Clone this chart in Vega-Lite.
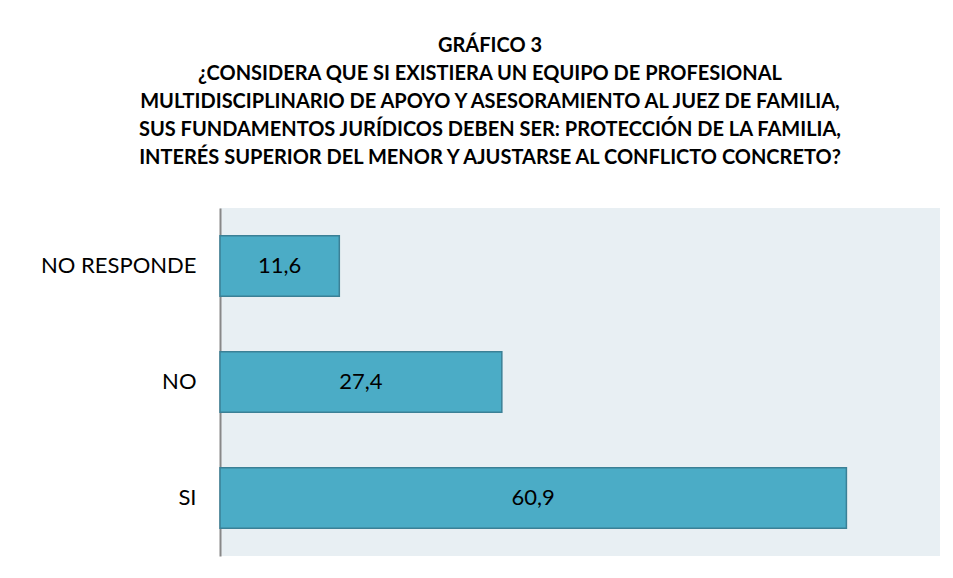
{
  "$schema": "https://vega.github.io/schema/vega-lite/v6.json",
  "width": 720,
  "height": 348,
  "autosize": {"type": "none"},
  "padding": {"left": 220, "top": 208, "right": 13, "bottom": 22},
  "background": "white",
  "title": {
    "text": ["GRÁFICO 3", "¿CONSIDERA QUE SI EXISTIERA UN EQUIPO DE PROFESIONAL", "MULTIDISCIPLINARIO DE APOYO Y ASESORAMIENTO AL JUEZ DE FAMILIA,", "SUS FUNDAMENTOS JURÍDICOS DEBEN SER: PROTECCIÓN DE LA FAMILIA,", "INTERÉS SUPERIOR DEL MENOR Y AJUSTARSE AL  CONFLICTO CONCRETO?"],
    "font": "Lato",
    "fontSize": 20,
    "fontWeight": "bold",
    "color": "black",
    "lineHeight": 28,
    "anchor": "middle",
    "frame": "group",
    "dx": -90,
    "offset": 40
  },
  "data": {
    "values": [
      {"respuesta": "NO RESPONDE", "porcentaje": 11.6, "etiqueta": "11,6"},
      {"respuesta": "NO", "porcentaje": 27.4, "etiqueta": "27,4"},
      {"respuesta": "SI", "porcentaje": 60.9, "etiqueta": "60,9"}
    ]
  },
  "encoding": {
    "y": {
      "field": "respuesta",
      "type": "nominal",
      "sort": ["NO RESPONDE", "NO", "SI"],
      "scale": {"paddingInner": 0.48, "paddingOuter": 0.24},
      "axis": {
        "title": null,
        "ticks": false,
        "domainColor": "#888888",
        "domainWidth": 2,
        "labelFont": "Lato",
        "labelFontSize": 22,
        "labelColor": "black",
        "labelPadding": 24,
        "grid": false
      }
    }
  },
  "layer": [
    {
      "mark": {"type": "bar", "color": "#4bacc6", "stroke": "#3b8096", "strokeWidth": 1.5},
      "encoding": {
        "x": {"field": "porcentaje", "type": "quantitative", "scale": {"domain": [0, 70]}, "axis": null}
      }
    },
    {
      "mark": {"type": "text", "font": "Lato", "fontSize": 22, "color": "black", "align": "center", "baseline": "middle"},
      "encoding": {
        "x": {"field": "porcentaje", "type": "quantitative", "scale": {"domain": [0, 140]}, "axis": null},
        "text": {"field": "etiqueta"}
      }
    }
  ],
  "resolve": {"scale": {"x": "independent"}},
  "config": {
    "view": {"fill": "#e8eff3", "stroke": null}
  }
}
